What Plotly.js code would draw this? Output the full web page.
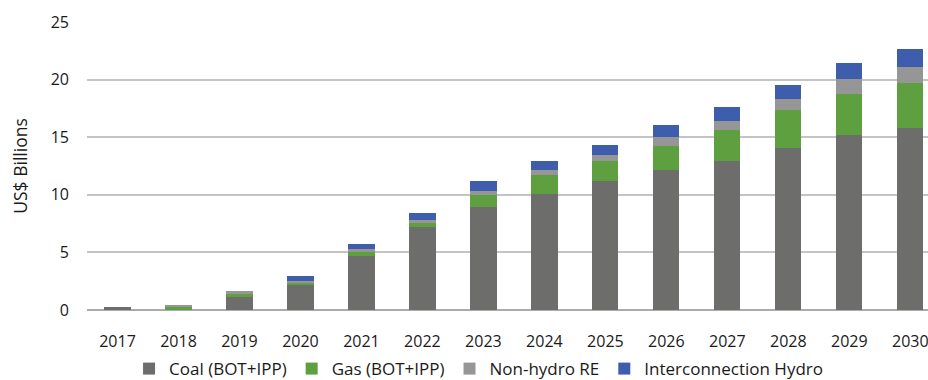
<!DOCTYPE html>
<html>
<head>
<meta charset="utf-8">
<script src="https://cdn.plot.ly/plotly-3.0.1.min.js"></script>
<style>html,body{margin:0;padding:0;background:#fff;overflow:hidden}#chart{width:928px;height:380px}</style>
</head>
<body>
<div id="chart"></div>
<script>
const years = ["2017","2018","2019","2020","2021","2022","2023","2024","2025","2026","2027","2028","2029","2030"];
const coal = [0.29, 0.0, 1.16, 2.20, 4.72, 7.24, 8.98, 10.11, 11.24, 12.11, 12.90, 14.03, 15.16, 15.77];
const gas = [0.0, 0.29, 0.26, 0.17, 0.35, 0.35, 0.96, 1.57, 1.66, 2.09, 2.69, 3.30, 3.56, 3.91];
const nonHydroRE = [0.0, 0.17, 0.26, 0.18, 0.26, 0.26, 0.43, 0.43, 0.52, 0.78, 0.78, 0.96, 1.31, 1.39];
const hydro = [0.0, 0.0, 0.0, 0.43, 0.44, 0.61, 0.79, 0.79, 0.87, 1.05, 1.22, 1.21, 1.39, 1.56];
const names = ["Coal (BOT+IPP)", "Gas (BOT+IPP)", "Non-hydro RE", "Interconnection Hydro"];
const colors = ["#6d6e6c", "#5ea040", "#969696", "#3f5dad"];

const series = [coal, gas, nonHydroRE, hydro];
const traces = series.map((vals, i) => ({
  type: "bar",
  x: years,
  y: vals,
  name: names[i],
  marker: {color: colors[i], line: {width: 0}},
  hoverinfo: "x+y+name"
}));

const font = "'Open Sans', 'Noto Sans', sans-serif";
const layout = {
  width: 928,
  height: 380,
  barmode: "stack",
  bargap: 0.57,
  margin: {l: 87, r: 0, t: 22, b: 70, autoexpand: false},
  paper_bgcolor: "#fff",
  plot_bgcolor: "#fff",
  font: {family: font, size: 16, color: "#1a1a1a"},
  xaxis: {
    type: "category",
    range: [-0.5, 13.29],
    showgrid: false,
    zeroline: false,
    showline: false,
    ticks: "",
    ticklabelstandoff: 20,
    automargin: false,
    tickfont: {family: font, size: 16, color: "#1a1a1a"}
  },
  yaxis: {
    range: [0, 25],
    tickvals: [0, 5, 10, 15, 20, 25],
    showgrid: true,
    gridcolor: "#c4c4c4",
    gridwidth: 2,
    zeroline: true,
    zerolinecolor: "#ababab",
    zerolinewidth: 2,
    showline: false,
    ticks: "",
    ticklabelstandoff: 17,
    automargin: false,
    tickfont: {family: font, size: 16, color: "#1a1a1a"},
    title: {text: "US$ Billions", font: {family: font, size: 17.5, color: "#1a1a1a"}, standoff: 18}
  },
  showlegend: true,
  legend: {
    orientation: "h",
    x: 0.05,
    xanchor: "left",
    y: -0.205,
    yanchor: "middle",
    traceorder: "normal",
    font: {family: font, size: 17, color: "#1a1a1a"},
    itemwidth: 30,
    bgcolor: "rgba(0,0,0,0)"
  }
};

Plotly.newPlot("chart", traces, layout, {displayModeBar: false, staticPlot: true});
</script>
</body>
</html>
